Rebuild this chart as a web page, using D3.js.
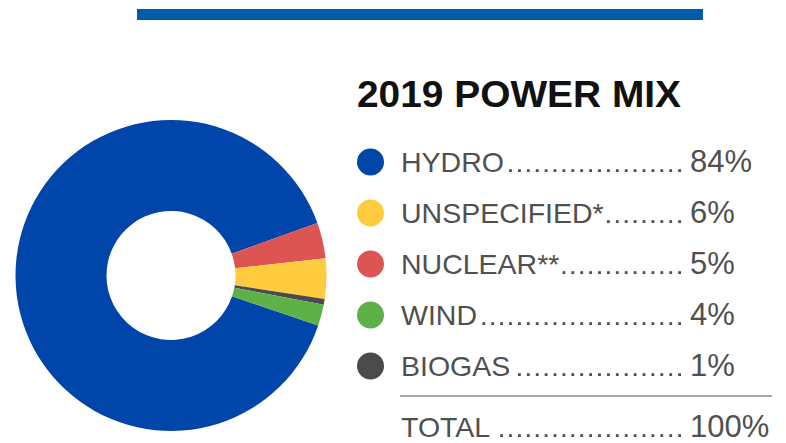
<!DOCTYPE html>
<html>
<head>
<meta charset="utf-8">
<script src="https://cdn.jsdelivr.net/npm/d3@7"></script>
<style>
  body { margin: 0; background: #fff; }
  svg { display: block; }
</style>
</head>
<body>
<div class="container"></div>
<script>
// legend rows, top to bottom
const categories = ['HYDRO', 'UNSPECIFIED*', 'NUCLEAR**', 'WIND', 'BIOGAS'];
const shareLabels = ['84%', '6%', '5%', '4%', '1%'];
const totalLabel = ['TOTAL', '100%'];

// donut slices, as drawn (clockwise from the end of the wind slice)
const pieOrder = ['HYDRO', 'NUCLEAR**', 'UNSPECIFIED*', 'BIOGAS', 'WIND'];
const sliceValues = [89.3, 3.7, 4.2, 0.6, 2.2];

const palette = ['#0045a9', '#ffcc3f', '#dd5553', '#5db146', '#4b4b4d'];

const W = 786, H = 443;

const svg = d3.select('.container')
    .append('svg')
    .attr('width', W)
    .attr('height', H);

// top rule
svg.append('rect')
    .attr('x', 137).attr('y', 9)
    .attr('width', 566).attr('height', 11)
    .attr('fill', '#005ba9');

const color = d3.scaleOrdinal().domain(categories).range(palette);

// donut
let pie = d3.pie()
    .sort(null)
    .value(d => d.v)
    .startAngle(108.8 * Math.PI / 180)
    .endAngle(108.8 * Math.PI / 180 + 2 * Math.PI);

let arc = d3.arc().innerRadius(64.5).outerRadius(155.5);

let slices = pieOrder.map((k, i) => ({ k: k, v: sliceValues[i] }));

svg.append('g')
    .attr('transform', 'translate(171,275.5)')
    .selectAll('path')
    .data(pie(slices))
    .enter()
    .append('path')
    .attr('d', arc)
    .attr('fill', d => color(d.data.k));

// legend
svg.append('text')
    .attr('x', 357).attr('y', 107)
    .attr('font-family', 'Liberation Sans, Arial, sans-serif')
    .attr('font-weight', 'bold')
    .attr('font-size', 37)
    .attr('textLength', 324)
    .attr('lengthAdjust', 'spacingAndGlyphs')
    .attr('fill', '#111')
    .text('2019 POWER MIX');

const y = d3.scalePoint().domain(categories).range([162, 366]);

const font = 'Liberation Sans, Arial, sans-serif';
const textCol = '#505050';
const dotsEnd = 681, dotStep = 8.9;

let drawRow = (g, label, pct, cy) => {
    let t = g.append('text')
        .attr('x', 401).attr('y', cy + 10)
        .attr('font-family', font).attr('font-size', 28.5)
        .attr('fill', textCol)
        .text(label);
    g.append('text')
        .attr('x', 690).attr('y', cy + 10)
        .attr('font-family', font).attr('font-size', 31)
        .attr('fill', textCol)
        .text(pct);
    let start = 401 + t.node().getComputedTextLength() + 3;
    let xs = [];
    for (let x = dotsEnd - 1.4; x - 1.4 >= start; x -= dotStep) xs.push(x);
    g.selectAll('rect.dot')
        .data(xs)
        .enter()
        .append('rect')
        .attr('class', 'dot')
        .attr('x', d => d - 1.4)
        .attr('y', cy + 10 - 2.8)
        .attr('width', 2.8).attr('height', 2.8)
        .attr('fill', textCol);
};

categories.forEach((c, i) => {
    let g = svg.append('g');
    g.append('circle')
        .attr('cx', 370.5).attr('cy', y(c))
        .attr('r', 13.5)
        .attr('fill', color(c));
    drawRow(g, c, shareLabels[i], y(c));
});

svg.append('line')
    .attr('x1', 400).attr('x2', 772)
    .attr('y1', 396).attr('y2', 396)
    .attr('stroke', '#a8a8a8').attr('stroke-width', 2);

drawRow(svg.append('g'), totalLabel[0], totalLabel[1], 427);
</script>
</body>
</html>
